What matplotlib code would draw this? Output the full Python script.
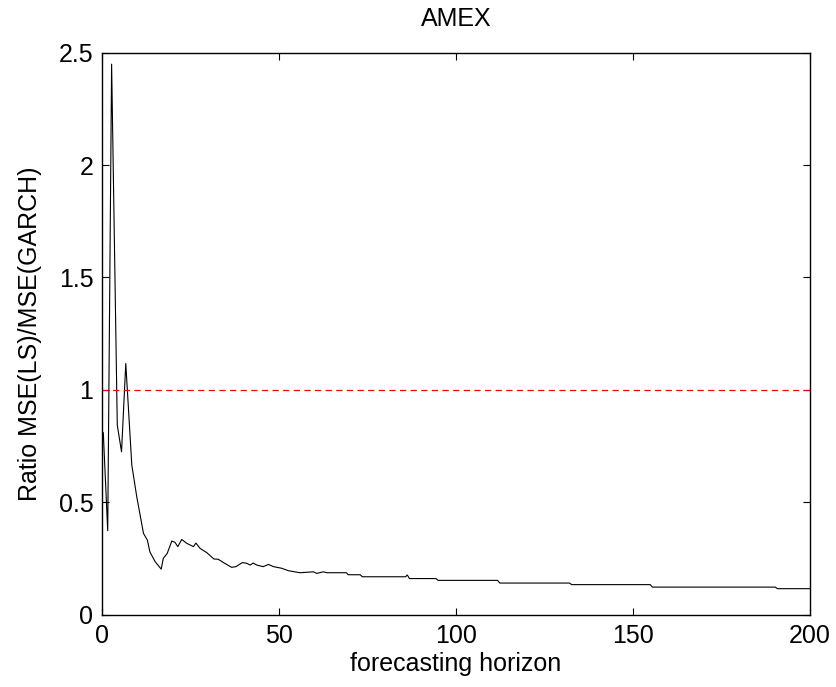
import numpy as np
import matplotlib
matplotlib.use('Agg')
import matplotlib.pyplot as plt

plt.rcParams['font.family'] = ['Liberation Sans', 'DejaVu Sans']

# horizonte y ratio MSE(LS)/MSE(GARCH)
horizon = [0.45, 1.7, 2.8, 4.4, 5.6, 6.8, 8.5, 9.9, 11.8, 12.9, 13.6, 15.1, 16.8,
           17.4, 18.5, 19.8, 20.7, 21.5, 22.6, 24.0, 25.9, 26.6, 27.8, 29.7, 31.7,
           32.9, 34.4, 36.7, 37.9, 39.7, 41.0, 41.9, 42.8, 43.8, 45.6, 47.1, 48.5,
           50.8, 52.7, 56.0, 59.8, 60.7, 62.6, 63.6, 67.3, 69.1, 69.6, 73.0, 73.6,
           85.8, 86.3, 86.9, 94.4, 95.0, 111.8, 112.4, 132.1, 132.7, 154.9, 155.5,
           190.2, 190.8, 200.0]
ratio = [0.809, 0.373, 2.449, 0.843, 0.724, 1.117, 0.665, 0.524, 0.361, 0.331, 0.279,
         0.235, 0.202, 0.250, 0.272, 0.327, 0.321, 0.302, 0.334, 0.317, 0.302, 0.318,
         0.294, 0.275, 0.247, 0.246, 0.231, 0.210, 0.213, 0.231, 0.228, 0.220, 0.229,
         0.220, 0.213, 0.223, 0.213, 0.206, 0.195, 0.186, 0.190, 0.183, 0.190, 0.186,
         0.186, 0.186, 0.177, 0.177, 0.168, 0.168, 0.176, 0.160, 0.160, 0.152, 0.152,
         0.140, 0.140, 0.133, 0.133, 0.122, 0.122, 0.115, 0.115]

umbral = 1.0
xticks = [0, 50, 100, 150, 200]
yticks = [0, 0.5, 1, 1.5, 2, 2.5]
ytick_labels = ['0', '0.5', '1', '1.5', '2', '2.5']

fs = 18

fig = plt.figure(figsize=(8.37, 6.87), dpi=100)
ax = fig.add_axes([0.1215, 0.1055, 0.8462, 0.8178])

ax.plot(horizon, ratio, color='black', lw=0.8)
ax.axhline(umbral, color='red', lw=0.9, linestyle=(0, (5, 3.5)))

ax.set_xlim(0, 200)
ax.set_ylim(0, 2.5)
ax.set_xticks(xticks)
ax.set_xticklabels([str(t) for t in xticks])
ax.set_yticks(yticks)
ax.set_yticklabels(ytick_labels)
ax.tick_params(direction='in', length=5, width=0.8, top=True, right=True,
               labelsize=fs)
ax.tick_params(axis='x', pad=7)
ax.tick_params(axis='y', pad=6)
for s in ax.spines.values():
    s.set_linewidth(1.0)

ax.set_title('AMEX', fontsize=fs, pad=19)
ax.set_xlabel('forecasting horizon', fontsize=fs, labelpad=3)
ax.set_ylabel('Ratio MSE(LS)/MSE(GARCH)', fontsize=fs, labelpad=12)

fig.savefig('out.png', dpi=100)
